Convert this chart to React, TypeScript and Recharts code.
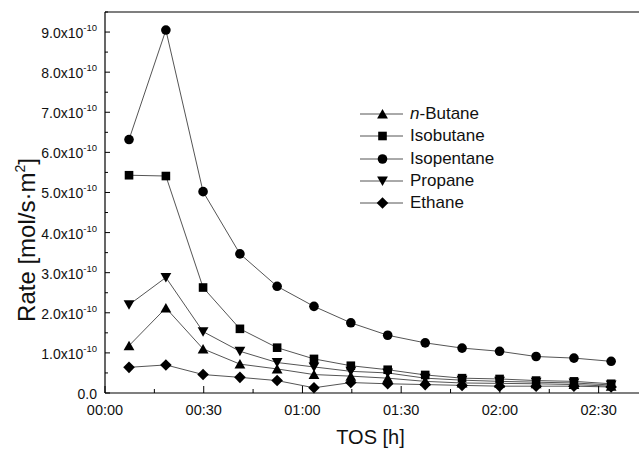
import { Line, LineChart, ReferenceLine, XAxis, YAxis } from "recharts"

// time on stream, minutes
const times = [7.3, 18.5, 29.8, 41.0, 52.3, 63.5, 74.7, 85.9, 97.3, 108.5, 119.9, 131.0, 142.5, 153.8]

// rates in units of 1e-10 mol/s·m²
const nButane = [1.18, 2.12, 1.1, 0.72, 0.6, 0.46, 0.42, 0.37, 0.29, 0.25, 0.24, 0.23, 0.21, 0.17]
const isobutane = [5.43, 5.41, 2.63, 1.6, 1.13, 0.85, 0.68, 0.58, 0.45, 0.37, 0.35, 0.31, 0.29, 0.23]
const isopentane = [6.32, 9.05, 5.02, 3.47, 2.66, 2.16, 1.75, 1.44, 1.25, 1.12, 1.04, 0.91, 0.87, 0.79]
const propane = [2.2, 2.88, 1.53, 1.04, 0.76, 0.65, 0.54, 0.5, 0.37, 0.32, 0.29, 0.27, 0.25, 0.2]
const ethane = [0.64, 0.7, 0.46, 0.39, 0.31, 0.13, 0.26, 0.23, 0.21, 0.19, 0.17, 0.17, 0.17, 0.15]

const xTicks = [0, 15, 30, 45, 60, 75, 90, 105, 120, 135, 150, 165]
const yTicks = [0, 0.5, 1, 1.5, 2, 2.5, 3, 3.5, 4, 4.5, 5, 5.5, 6, 6.5, 7, 7.5, 8, 8.5, 9, 9.5]

const series = [
  { key: "nButane", name: "n-Butane", shape: "up", values: nButane },
  { key: "isobutane", name: "Isobutane", shape: "square", values: isobutane },
  { key: "isopentane", name: "Isopentane", shape: "circle", values: isopentane },
  { key: "propane", name: "Propane", shape: "down", values: propane },
  { key: "ethane", name: "Ethane", shape: "diamond", values: ethane },
]

const data = times.map((t, i) => {
  const row: any = { t }
  series.forEach((s) => (row[s.key] = s.values[i]))
  return row
})

const FONT = "'Liberation Sans', Arial, sans-serif"
const LINE = "#555"

function Marker({ cx, cy, shape }: { cx: number; cy: number; shape: string }) {
  if (shape === "circle") return <circle cx={cx} cy={cy} r={4.8} fill="#000" />
  if (shape === "square") return <rect x={cx - 4.3} y={cy - 4.3} width={8.6} height={8.6} fill="#000" />
  if (shape === "up")
    return <polygon points={`${cx - 5.4},${cy + 4.5} ${cx + 5.4},${cy + 4.5} ${cx},${cy - 5}`} fill="#000" />
  if (shape === "down")
    return <polygon points={`${cx - 5.4},${cy - 4.5} ${cx + 5.4},${cy - 4.5} ${cx},${cy + 5}`} fill="#000" />
  return <polygon points={`${cx},${cy - 5.8} ${cx + 5.8},${cy} ${cx},${cy + 5.8} ${cx - 5.8},${cy}`} fill="#000" />
}

function YTick(props: any) {
  const { x, y, payload } = props
  const v = payload.value
  const major = Math.abs(v - Math.round(v)) < 1e-6
  const axisX = x + 8
  return (
    <g>
      <line x1={axisX} x2={axisX + (major ? 5 : 3)} y1={y} y2={y} stroke="#000" />
      {major && (
        <text x={x} y={y + 6} textAnchor="end" fontSize={14} fill="#111" fontFamily={FONT}>
          {v === 0 ? (
            "0.0"
          ) : (
            <>
              {v.toFixed(1)}x10
              <tspan dy={-7} fontSize={9.5}>
                -10
              </tspan>
            </>
          )}
        </text>
      )}
    </g>
  )
}

function XTick(props: any) {
  const { x, y, payload } = props
  const v = payload.value
  const major = v % 30 === 0
  const axisY = y - 22
  const hh = String(Math.floor(v / 60)).padStart(2, "0")
  const mm = String(v % 60).padStart(2, "0")
  return (
    <g>
      <line x1={x} x2={x} y1={axisY} y2={axisY - (major ? 7 : 4)} stroke="#000" />
      {major && (
        <text x={x} y={y} textAnchor="middle" fontSize={14.5} fill="#111" fontFamily={FONT}>
          {hh}:{mm}
        </text>
      )}
    </g>
  )
}

function LegendBox() {
  return (
    <div style={{ position: "absolute", left: 355, top: 103, fontFamily: FONT, fontSize: 17, color: "#111" }}>
      {series.map((s) => (
        <div key={s.key} style={{ display: "flex", alignItems: "center", height: 22.3 }}>
          <svg width={52} height={22} style={{ display: "block" }}>
            <line x1={5} x2={48} y1={11} y2={11} stroke={LINE} strokeWidth={1} />
            <Marker cx={27.5} cy={11} shape={s.shape} />
          </svg>
          <span style={{ marginLeft: 3, lineHeight: "22px" }}>
            {s.name === "n-Butane" ? (
              <>
                <i>n</i>-Butane
              </>
            ) : (
              s.name
            )}
          </span>
        </div>
      ))}
    </div>
  )
}

export default function App() {
  return (
    <div style={{ position: "absolute", left: 0, top: 0, width: 639, height: 450, overflow: "hidden", background: "#fff" }}>
      <LineChart width={660} height={450} data={data} margin={{ top: 12, right: 12, bottom: 0, left: 0 }}>
        <XAxis
          type="number"
          dataKey="t"
          domain={[0, 165]}
          ticks={xTicks}
          interval={0}
          height={57}
          tickSize={0}
          tickMargin={22}
          tick={<XTick />}
          axisLine={{ stroke: "#000", strokeWidth: 1.2 }}
          label={{
            content: (p: any) => (
              <text
                x={p.viewBox.x + p.viewBox.width / 2 - 6}
                y={p.viewBox.y + 51}
                textAnchor="middle"
                fontSize={20}
                fill="#111"
                fontFamily={FONT}
              >
                TOS [h]
              </text>
            ),
          }}
        />
        <YAxis
          type="number"
          domain={[0, 9.5]}
          ticks={yTicks}
          interval={0}
          width={105}
          tickSize={0}
          tickMargin={8}
          tick={<YTick />}
          axisLine={{ stroke: "#000", strokeWidth: 1.2 }}
          label={{
            content: () => (
              <text
                transform="translate(35, 240) rotate(-90)"
                textAnchor="middle"
                fontSize={24}
                fill="#111"
                fontFamily={FONT}
              >
                Rate [mol/s·m
                <tspan dy={-10} fontSize={14}>
                  2
                </tspan>
                <tspan dy={10}>]</tspan>
              </text>
            ),
          }}
        />
        <ReferenceLine y={9.5} stroke="#000" strokeWidth={1.2} />
        {series.map((s) => (
          <Line
            key={s.key}
            dataKey={s.key}
            name={s.name}
            stroke={LINE}
            strokeWidth={1}
            isAnimationActive={false}
            dot={(p: any) => <Marker key={`${s.key}-${p.index}`} cx={p.cx} cy={p.cy} shape={s.shape} />}
            activeDot={false}
          />
        ))}
      </LineChart>
      <LegendBox />
    </div>
  )
}
